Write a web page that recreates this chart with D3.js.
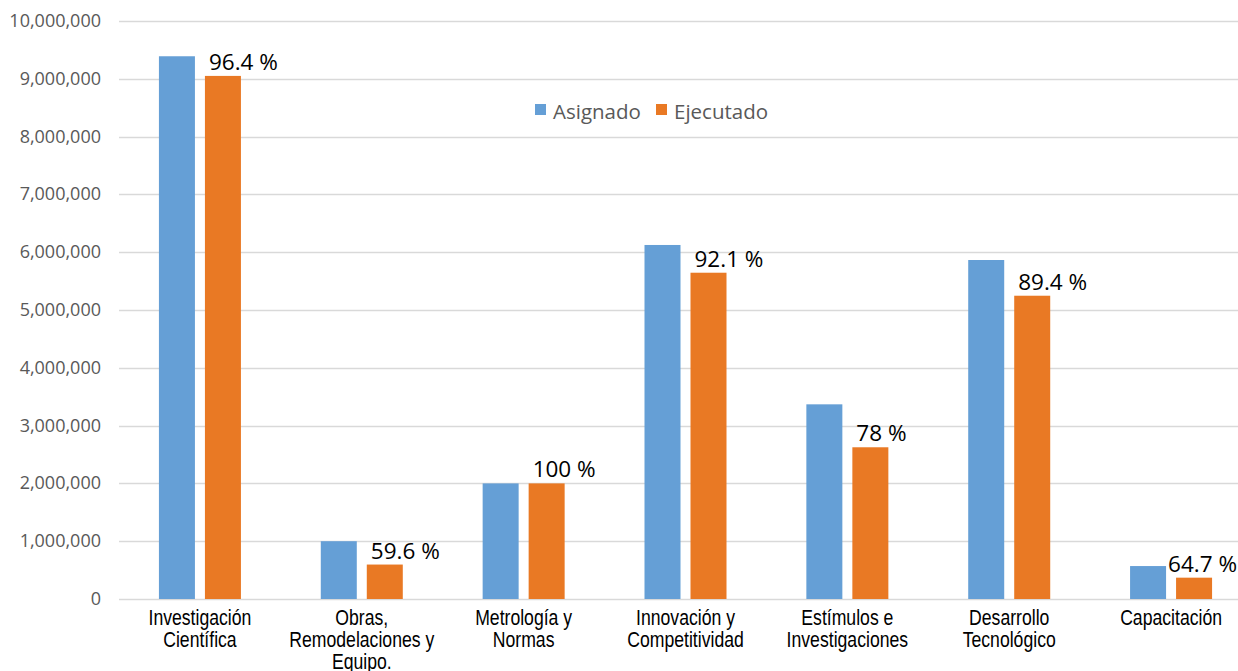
<!DOCTYPE html>
<html>
<head>
<meta charset="utf-8">
<script src="https://cdn.jsdelivr.net/npm/d3@7/dist/d3.min.js"></script>
<style>
  html, body { margin: 0; padding: 0; background: #fff; }
  svg { display: block; }
</style>
</head>
<body>
<svg id="chart" width="1238" height="671"></svg>
<script>
// Budget per programme: assigned vs. executed
const categories = [
  ["Investigación", "Científica"],
  ["Obras,", "Remodelaciones y", "Equipo."],
  ["Metrología y", "Normas"],
  ["Innovación y", "Competitividad"],
  ["Estímulos e", "Investigaciones"],
  ["Desarrollo", "Tecnológico"],
  ["Capacitación"]
];
const asignado  = [9390000, 1000000, 2000000, 6125000, 3368000, 5865000, 570000];
const ejecutado = [9050000,  596000, 2000000, 5645000, 2625000, 5247000, 369000];
const percentLabels = ["96.4 %", "59.6 %", "100 %", "92.1 %", "78 %", "89.4 %", "64.7 %"];
const seriesNames = ["Asignado", "Ejecutado"];
const seriesColors = ["#659FD6", "#E97924"];
const yTicks = d3.range(0, 10000001, 1000000);

const svg = d3.select("#chart");
const W = 1238, H = 671;
const plotLeft = 119, plotRight = 1252, plotTop = 21, plotBottom = 599;

const x = d3.scaleBand()
  .domain(d3.range(categories.length))
  .range([plotLeft, plotRight])
  .paddingInner(0).paddingOuter(0);

const y = d3.scaleLinear().domain([0, 10000000]).range([plotBottom, plotTop]);

// gridlines
svg.append("g").selectAll("line").data(yTicks).join("line")
  .attr("x1", plotLeft).attr("x2", W)
  .attr("y1", d => Math.round(y(d)) + 0.5).attr("y2", d => Math.round(y(d)) + 0.5)
  .attr("stroke", "#d9d9d9").attr("stroke-width", 1.3);

// y tick labels
const fmt = d3.format(",");
svg.append("g").selectAll("text").data(yTicks).join("text")
  .attr("x", 101).attr("y", d => y(d) + 6)
  .attr("text-anchor", "end")
  .attr("font-family", "'Open Sans', 'Noto Sans', sans-serif")
  .attr("font-size", 18)
  .attr("fill", "#595959")
  .text(d => fmt(d));

// bars
const barW = 36, gap = 10;
const barX = (i, s) => x(i) + x.bandwidth() / 2 - gap / 2 - barW + s * (barW + gap);
const series = [asignado, ejecutado];
series.forEach((vals, s) => {
  svg.append("g").selectAll("rect").data(vals).join("rect")
    .attr("x", (d, i) => barX(i, s))
    .attr("y", d => y(d))
    .attr("width", barW)
    .attr("height", d => plotBottom - y(d))
    .attr("fill", seriesColors[s]);
});

// percentage labels above executed bars (kept inside the canvas)
svg.append("g").selectAll("text").data(ejecutado).join("text")
  .attr("y", d => y(d) - 6)
  .attr("font-family", "'Open Sans', 'Noto Sans', sans-serif")
  .attr("font-size", 22.5)
  .attr("fill", "#000")
  .text((d, i) => percentLabels[i])
  .each(function(d, i) {
    const w = this.getComputedTextLength();
    const px = Math.min(barX(i, 1) + 4, W - w - 1);
    d3.select(this).attr("x", px);
  });

// category labels (narrow face)
const catG = svg.append("g");
categories.forEach((lines, i) => {
  const cx = x(i) + x.bandwidth() / 2;
  const t = catG.append("text")
    .attr("text-anchor", "middle")
    .attr("transform", `translate(${cx},0) scale(0.82,1)`)
    .attr("font-family", "'Liberation Sans', Arial, sans-serif")
    .attr("font-size", 21.5)
    .attr("fill", "#000");
  lines.forEach((ln, k) => {
    t.append("tspan")
      .attr("x", 0)
      .attr("y", 625 + k * 22)
      .text(ln);
  });
});

// legend
const legend = svg.append("g");
const legendX = [535, 656];
seriesNames.forEach((name, s) => {
  legend.append("rect")
    .attr("x", legendX[s]).attr("y", 104)
    .attr("width", 11).attr("height", 11)
    .attr("fill", seriesColors[s]);
  legend.append("text")
    .attr("x", legendX[s] + 18).attr("y", 119)
    .attr("font-family", "'Open Sans', 'Noto Sans', sans-serif")
    .attr("font-size", 20.5)
    .attr("fill", "#595959")
    .text(name);
});
</script>
</body>
</html>
